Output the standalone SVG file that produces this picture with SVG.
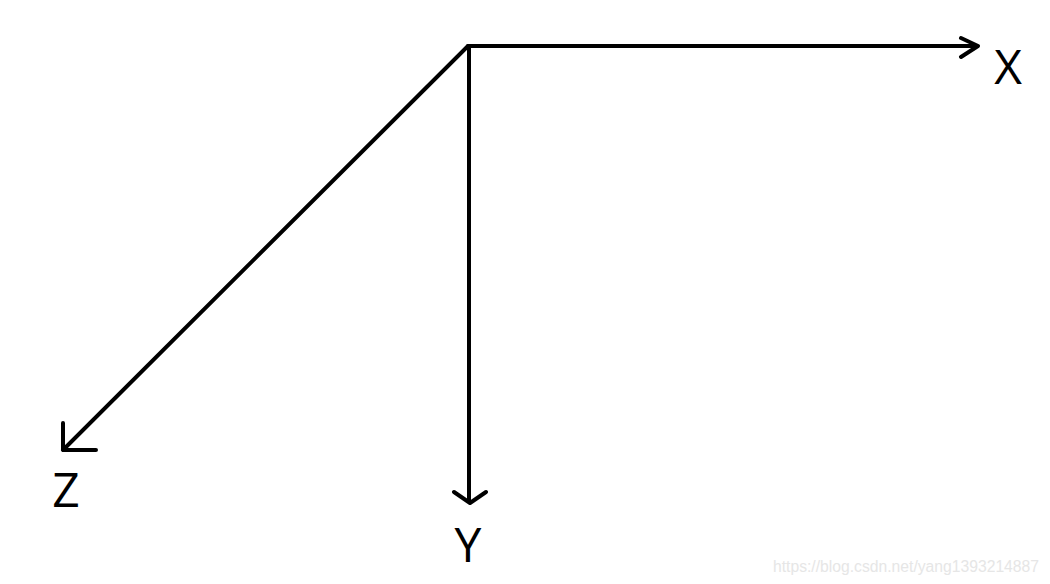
<svg xmlns="http://www.w3.org/2000/svg" width="1050" height="584" viewBox="0 0 1050 584">
<style>
.ax{stroke:#000;stroke-width:4;fill:none;stroke-linecap:round;stroke-linejoin:round}
.lbl{font-family:"Open Sans","Liberation Sans",sans-serif;font-size:48px;fill:#000}
.wm{font-family:"Liberation Sans",Arial,sans-serif;font-size:16px;fill:#e6e6e6}
</style>
<rect width="1050" height="584" fill="#fff"/>
<g id="connectors">
<path class="ax" d="M468,46 H978 M961,38 L978,46 L961,57"/>
<path class="ax" d="M469,46 V502 M454,492 L470,503 L486,492"/>
<path class="ax" d="M468,46 L63,450 M63,423 V450 H96"/>
</g>
<g id="labels">
<text class="lbl" x="1008" y="84" text-anchor="middle">X</text>
<text class="lbl" x="468" y="562" text-anchor="middle">Y</text>
<text class="lbl" x="66" y="507" text-anchor="middle">Z</text>
</g>
<text class="wm" x="773" y="572" textLength="266" lengthAdjust="spacingAndGlyphs">https://blog.csdn.net/yang1393214887</text>
</svg>
